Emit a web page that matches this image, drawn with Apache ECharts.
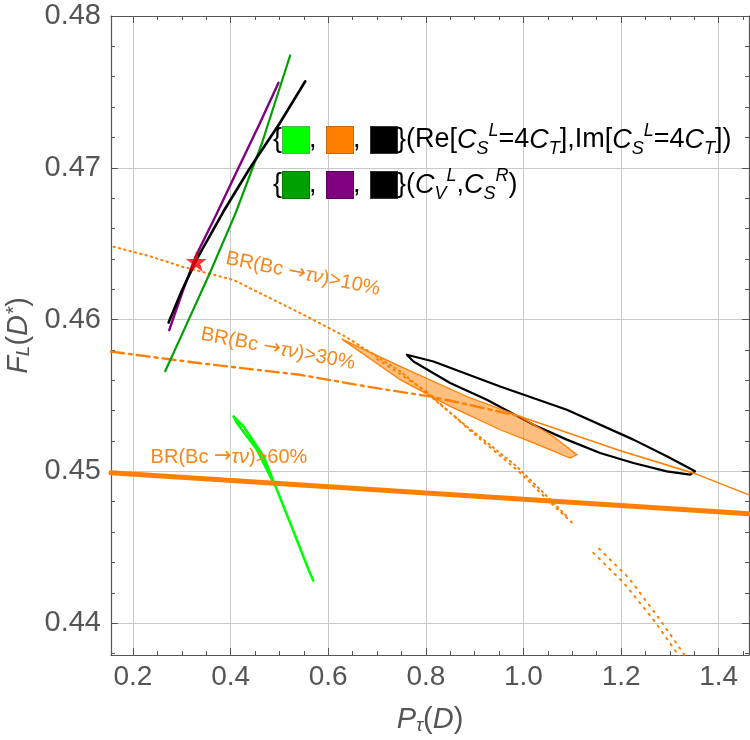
<!DOCTYPE html>
<html>
<head>
<meta charset="utf-8">
<script src="https://cdn.jsdelivr.net/npm/echarts@6/dist/echarts.min.js"></script>
<style>html,body{margin:0;padding:0;background:#fff}#c{width:750px;height:740px}</style>
</head>
<body>
<div id="c"></div>
<script>
// ---- data ----
const xRange = [0.155, 1.462];
const yRange = [0.4379, 0.48];

const cvPurple = [[0.2743,0.4593],[0.300,0.4617],[0.3276,0.4641],[0.372,0.4670],[0.4163,0.4700],[0.458,0.4728],[0.4982,0.4756]];
const cvBlack = [[0.273,0.4598],[0.300,0.4619],[0.331,0.4640],[0.385,0.4671],[0.44,0.4700],[0.50,0.4729],[0.553,0.4757]];
const cvGreen = [[0.266,0.4566],[0.310,0.4597],[0.358,0.4631],[0.410,0.4670],[0.464,0.4716],[0.522,0.4774]];

const reimGreen = [[0.5693,0.4428],[0.5596,0.44353],[0.5221,0.4466],[0.4879,0.44935],[0.4675,0.45099],[0.4265,0.45296],[0.406,0.45362],[0.413,0.45318],[0.454,0.45143],[0.4812,0.44967],[0.4879,0.44925]];
const reimBlack = [[0.7611,0.45768],[0.8156,0.45724],[0.9522,0.45559],[1.0888,0.45406],[1.2252,0.45209],[1.2936,0.45099],[1.3515,0.4500],[1.3414,0.44978],[1.2936,0.4500],[1.2252,0.45055],[1.157,0.45121],[1.0888,0.45209],[1.0204,0.45307],[0.925,0.45472],[0.8498,0.45582],[0.7747,0.45724],[0.7611,0.45768]];
const reimOrange = [[0.628,0.45871],[0.7474,0.45691],[0.884,0.45493],[0.9932,0.45362],[1.0614,0.4523],[1.1093,0.4511],[1.0955,0.45088],[1.0204,0.45187],[0.9522,0.45274],[0.8498,0.45428],[0.7474,0.45604],[0.6792,0.45757]];

const br60 = [[0.155,0.4499],[1.462,0.4472]];
const br30Dashed = [[0.155,0.45789],[0.338,0.45712],[0.5426,0.45636],[0.686,0.45555],[0.81,0.45493],[0.90,0.4543],[0.993,0.45362]];
const br30Solid = [[0.993,0.45362],[1.2,0.45134],[1.3515,0.44985],[1.462,0.44845]];
const br10Upper = [[0.16,0.4648],[0.236,0.46416],[0.30,0.46349],[0.406,0.46261],[0.543,0.46042],[0.635,0.45888],[0.748,0.45658],[0.884,0.45296],[0.986,0.45033],[1.048,0.44836],[1.092,0.44694]];
const br10UpperB = [[0.70,0.4574],[0.80,0.4553],[0.89,0.4527],[0.99,0.4500],[1.05,0.4481],[1.10,0.4466]];
const br10Lower = [[1.143,0.44463],[1.205,0.44266],[1.266,0.44024],[1.314,0.43805],[1.32,0.4378]];
const br10LowerB = [[1.155,0.4449],[1.215,0.4430],[1.278,0.4403],[1.332,0.4378]];

const starPoint = [[0.3297,0.46382]];

const xTickDigits = 1;
const yTickDigits = 2;
const brLabels = ['BR(Bc ', '\u2192', '\u03c4\u03bd', ')>10%', ')>30%', ')>60%'];

// ---- chart ----
const ORANGE = '#FF8000';
const AX = '#555555';
const FONT = '"Liberation Sans", Arial, sans-serif';

const chart = echarts.init(document.getElementById('c'), null, {renderer: 'canvas'});

const nameRich = {
  i: {fontStyle: 'italic', fontSize: 29, color: AX, fontFamily: FONT, lineHeight: 30, verticalAlign: 'middle'},
  n: {fontSize: 29, color: AX, fontFamily: FONT, lineHeight: 30, verticalAlign: 'middle'},
  sub: {fontStyle: 'italic', fontSize: 19, color: AX, fontFamily: FONT, lineHeight: 17, verticalAlign: 'bottom'},
  sup: {fontStyle: 'italic', fontSize: 21, color: AX, fontFamily: FONT, lineHeight: 17, verticalAlign: 'top'}
};

function baseX(extra) {
  return Object.assign({
    type: 'value', min: xRange[0], max: xRange[1], splitNumber: 7,
    axisLine: {show: true, lineStyle: {color: AX, width: 1.2}},
    axisTick: {show: true, inside: true, length: 7, lineStyle: {color: AX}},
    minorTick: {show: true, splitNumber: 4, length: 4, lineStyle: {color: AX}},
    splitLine: {show: false}
  }, extra);
}
function baseY(extra) {
  return Object.assign({
    type: 'value', min: yRange[0], max: yRange[1], splitNumber: 5,
    axisLine: {show: true, lineStyle: {color: AX, width: 1.2}},
    axisTick: {show: true, inside: true, length: 7, lineStyle: {color: AX}},
    minorTick: {show: true, splitNumber: 5, length: 4, lineStyle: {color: AX}},
    splitLine: {show: false}
  }, extra);
}

function lineSeries(data, color, width, type, z) {
  return {
    type: 'line', data: data, xAxisIndex: 0, yAxisIndex: 0,
    showSymbol: false, symbol: 'none', smooth: false, animation: false, z: z || 2,
    lineStyle: {color: color, width: width, type: type || 'solid', cap: 'round', join: 'round'},
    silent: true
  };
}

const LF = 27, SF = 18;
const legendRich = {
  n: {fontSize: LF, color: '#000', fontFamily: FONT, lineHeight: 36, verticalAlign: 'middle'},
  b: {fontSize: LF, color: '#000', fontFamily: FONT, lineHeight: 36, verticalAlign: 'middle', width: 10},
  c: {fontSize: LF, color: '#000', fontFamily: FONT, lineHeight: 36, verticalAlign: 'middle', width: 18},
  i: {fontSize: LF, fontStyle: 'italic', color: '#000', fontFamily: FONT, lineHeight: 36, verticalAlign: 'middle'},
  sub: {fontSize: SF, fontStyle: 'italic', color: '#000', fontFamily: FONT, lineHeight: 21, verticalAlign: 'bottom'},
  sup: {fontSize: SF, fontStyle: 'italic', color: '#000', fontFamily: FONT, lineHeight: 21, verticalAlign: 'top'},
  g: {width: 26, height: 26, backgroundColor: '#00FF00', borderColor: '#44bb44', borderWidth: 1, verticalAlign: 'middle'},
  o: {width: 26, height: 26, backgroundColor: '#FF8000', borderColor: '#cc6a10', borderWidth: 1, verticalAlign: 'middle'},
  k: {width: 26, height: 26, backgroundColor: '#000000', borderColor: '#333', borderWidth: 1, verticalAlign: 'middle'},
  dg: {width: 26, height: 26, backgroundColor: '#00A000', borderColor: '#007a00', borderWidth: 1, verticalAlign: 'middle'},
  p: {width: 26, height: 26, backgroundColor: '#800080', borderColor: '#5a005a', borderWidth: 1, verticalAlign: 'middle'}
};

const row1 = '{b|{}{g| }{c|,}{o| }{c|,}{k| }}{n|(Re[}{i|C}{sub|S}{sup|L}{n|=4}{i|C}{sub|T}{n|],Im[}{i|C}{sub|S}{sup|L}{n|=4}{i|C}{sub|T}{n|])}';
const row2 = '{b|{}{dg| }{c|,}{p| }{c|,}{k| }}{n|(}{i|C}{sub|V}{sup|L}{n|,}{i|C}{sub|S}{sup|R}{n|)}';

const BRC = '#F8861A';
const brRich = {
  n: {fontSize: 20, color: BRC, fontFamily: FONT},
  a: {fontSize: 21, color: BRC, fontFamily: '"DejaVu Sans", sans-serif'},
  i: {fontSize: 20, color: BRC, fontFamily: FONT, fontStyle: 'italic'}
};
function brText(k) { return '{n|' + brLabels[0] + '}{a|' + brLabels[1] + '}{i|' + brLabels[2] + '}{n|' + brLabels[k] + '}'; }

const option = {
  backgroundColor: '#ffffff',
  animation: false,
  grid: {left: 111, right: 1, top: 16, bottom: 85, containLabel: false, outerBoundsMode: 'none'},
  xAxis: [
    baseX({
      position: 'bottom',
      axisLabel: {show: true, showMinLabel: false, showMaxLabel: false, margin: 8, color: AX, fontSize: 28, fontFamily: FONT,
        formatter: v => v.toFixed(xTickDigits)},
      splitLine: {show: true, lineStyle: {color: '#c9c9c9', width: 1}},
      name: '{i|P}{sub|\u03c4}{n|(}{i|D}{n|)}', nameLocation: 'middle', nameGap: 50,
      nameTextStyle: {rich: nameRich}
    }),
    baseX({position: 'top', axisLabel: {show: false}})
  ],
  yAxis: [
    baseY({
      position: 'left',
      axisLabel: {show: true, showMinLabel: false, margin: 10, color: AX, fontSize: 29, fontFamily: FONT,
        formatter: v => v.toFixed(yTickDigits)},
      splitLine: {show: true, lineStyle: {color: '#c9c9c9', width: 1}},
      name: '{i|F}{sub|L}{n|(}{i|D}{sup|*}{n|)}', nameLocation: 'middle', nameGap: 74, nameRotate: 90,
      nameTextStyle: {rich: nameRich}
    }),
    baseY({position: 'right', axisLabel: {show: false}})
  ],
  series: [
    lineSeries(reimBlack, '#000000', 2.2, 'solid', 2),
    lineSeries(reimGreen, '#00FF00', 2.5, 'solid', 2),
    {
      type: 'custom', xAxisIndex: 0, yAxisIndex: 0, data: reimOrange, z: 3, silent: true,
      encode: {x: 0, y: 1},
      renderItem: function (params, api) {
        if (params.dataIndex !== 0) return null;
        const pts = reimOrange.map(p => api.coord(p));
        return {type: 'polygon', shape: {points: pts},
          style: {fill: 'rgba(255,128,0,0.5)', stroke: ORANGE, lineWidth: 1.3}};
      }
    },
    lineSeries(br60, ORANGE, 5, 'solid', 4),
    lineSeries(br30Dashed, ORANGE, 2.4, [13, 5, 3, 5], 4),
    lineSeries(br30Solid, ORANGE, 1.6, 'solid', 4),
    lineSeries(br10Upper, ORANGE, 2, [1.5, 4], 4),
    lineSeries(br10UpperB, ORANGE, 2, [1.5, 5], 4),
    lineSeries(br10Lower, ORANGE, 2, [1.5, 6], 4),
    lineSeries(br10LowerB, ORANGE, 2, [1.5, 6], 4),
    lineSeries(cvGreen, '#00A000', 2.2, 'solid', 5),
    lineSeries(cvPurple, '#800080', 2.4, 'solid', 5),
    lineSeries(cvBlack, '#000000', 2.6, 'solid', 6),
    {
      type: 'scatter', xAxisIndex: 0, yAxisIndex: 0, data: starPoint, z: 10, silent: true,
      symbol: 'path://M50,0 L61.2,34.5 L97.6,34.5 L68.2,55.9 L79.4,90.5 L50,69.1 L20.6,90.5 L31.8,55.9 L2.4,34.5 L38.8,34.5 Z',
      symbolSize: 21, itemStyle: {color: '#FF0000'}
    }
  ],
  graphic: [
    {type: 'text', x: 273, y: 140, z: 20, style: {text: row1, rich: legendRich, fontSize: LF, fontFamily: FONT, fill: '#000', align: 'left', verticalAlign: 'middle'}},
    {type: 'text', x: 273, y: 185, z: 20, style: {text: row2, rich: legendRich, fontSize: LF, fontFamily: FONT, fill: '#000', align: 'left', verticalAlign: 'middle'}},
    {type: 'text', x: 303, y: 274, rotation: -0.2, z: 20, style: {text: brText(3), rich: brRich, fontSize: 20, fill: BRC, align: 'center', verticalAlign: 'middle'}},
    {type: 'text', x: 278, y: 349, rotation: -0.19, z: 20, style: {text: brText(4), rich: brRich, fontSize: 20, fill: BRC, align: 'center', verticalAlign: 'middle'}},
    {type: 'text', x: 229, y: 457, z: 20, style: {text: brText(5), rich: brRich, fontSize: 20, fill: BRC, align: 'center', verticalAlign: 'middle'}}
  ]
};
chart.setOption(option);
</script>
</body>
</html>
